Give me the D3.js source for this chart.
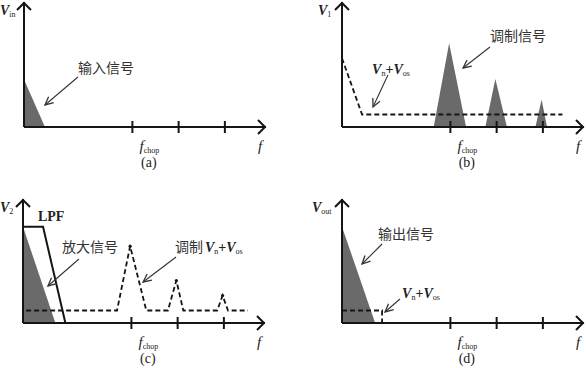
<!DOCTYPE html>
<html><head><meta charset="utf-8">
<script src="https://cdn.jsdelivr.net/npm/d3@7"></script>
<style>
html,body{margin:0;padding:0;background:#fff;}
svg{display:block;}
.cn{font-family:"Noto Sans CJK SC","Noto Sans",sans-serif;font-size:14px;fill:#333;}
.sr{font-family:"Liberation Serif","DejaVu Serif",serif;fill:#222;}
</style></head>
<body>
<script>
// ---- data (frequency units: ticks at 7, 10, 13 = fchop, 2fchop, 3fchop positions) ----
const tickFreqs = [7, 10, 13];
const panelNames = ["(a)", "(b)", "(c)", "(d)"];
const yAxisMain = ["V", "V", "V", "V"];
const yAxisSub = ["in", "1", "2", "out"];
// (a) input signal spectrum
const inputSignal = [[0, 3.8], [1.36, 0], [0, 0]];
// (b) modulated signal peaks: [centre, left base, right base, height]
const modPeaks = [[6.95, 5.95, 8.05, 6.7], [9.95, 9.3, 10.7, 3.85], [12.95, 12.55, 13.3, 2.2]];
// (b) noise + offset (dashed)
const noiseB = [[0, 5.5], [1.3, 1.0], [14.3, 1.0]];
// (c) LPF outline, amplified signal, modulated noise (dashed)
const lpf = [[0, 7.7], [1.3, 7.7], [2.75, 0]];
const ampSignal = [[0, 7.7], [2.1, 0], [0, 0]];
const noiseC = [[0.2, 1], [6.1, 1], [6.95, 6.15], [8.0, 1], [9.4, 1], [9.95, 3.4], [10.4, 1],
                [12.6, 1], [12.95, 2.2], [13.3, 1], [14.6, 1]];
const noiseCPeaks = [[6.95, 6.15], [9.95, 3.4], [12.95, 2.2]];
// (d) output signal and residual noise
const outSignal = [[0, 7.7], [2.15, 0], [0, 0]];
const noiseD = [[0, 1], [2.6, 1], [2.6, 0]];

// ---- layout ----
const W = 586, H = 368;
const panels = [
  {x0: 24, y0: 127, top: 2, lx: 0},
  {x0: 342, y0: 127, top: 2, lx: 318},
  {x0: 23, y0: 323, top: 199, lx: 0},
  {x0: 342, y0: 323, top: 199, lx: 312}
];
const svg = d3.select("body").append("svg").attr("width", W).attr("height", H);
const grey = "#6a6a6a", ink = "#151515";

panels.forEach((p, i) => {
  p.x = d3.scaleLinear().domain([0, 15.7]).range([p.x0, p.x0 + 242]);
  p.y = d3.scaleLinear().domain([0, 10]).range([p.y0, p.y0 - 125]);
  p.g = svg.append("g");
});

const line = (p) => d3.line().x(d => p.x(d[0])).y(d => p.y(d[1]));

function chevron(g, x, y, dir, size, w) {
  let pts;
  if (dir === "up") pts = [[x - size, y + size], [x, y], [x + size, y + size]];
  else pts = [[x - size, y - size], [x, y], [x - size, y + size]];
  g.append("path").attr("d", d3.line()(pts)).attr("fill", "none")
    .attr("stroke", ink).attr("stroke-width", w).attr("stroke-linejoin", "miter");
}
function annArrow(p, from, to) {
  const x1 = p.x(from[0]), y1 = p.y(from[1]), x2 = p.x(to[0]), y2 = p.y(to[1]);
  p.g.append("line").attr("x1", x1).attr("y1", y1).attr("x2", x2).attr("y2", y2)
    .attr("stroke", "#333").attr("stroke-width", 1.1);
  const a = Math.atan2(y1 - y2, x1 - x2), L = 9, s = 0.45;
  const pts = [[x2 + L * Math.cos(a + s), y2 + L * Math.sin(a + s)], [x2, y2],
               [x2 + L * Math.cos(a - s), y2 + L * Math.sin(a - s)]];
  p.g.append("path").attr("d", d3.line()(pts)).attr("fill", "none")
    .attr("stroke", "#333").attr("stroke-width", 1.3);
}
function vnos(g, x, y) {
  const t = g.append("text").attr("class", "sr").attr("x", x).attr("y", y)
    .attr("font-size", 14).attr("font-weight", "bold").attr("font-style", "italic");
  t.append("tspan").text("V");
  t.append("tspan").attr("font-size", 8).attr("font-style", "normal").attr("font-weight", "normal").attr("dy", 2).text("n");
  t.append("tspan").attr("dy", -2).attr("font-style", "normal").text("+");
  t.append("tspan").text("V");
  t.append("tspan").attr("font-size", 8).attr("font-style", "normal").attr("font-weight", "normal").attr("dy", 2).text("os");
  return t;
}

// ---- axes ----
panels.forEach((p, i) => {
  const g = p.g;
  const xEnd = p.x0 + 242;
  const xAxis = d3.axisBottom(p.x).tickValues(tickFreqs).tickSize(0).tickFormat("");
  const ax = g.append("g").attr("transform", `translate(0,${p.y0})`).call(xAxis);
  ax.select(".domain").remove();
  ax.selectAll(".tick line").remove();
  ax.selectAll(".tick").append("line").attr("y1", -6).attr("y2", 6)
    .attr("stroke", ink).attr("stroke-width", 2);
  g.append("line").attr("x1", p.x0).attr("x2", xEnd).attr("y1", p.y0).attr("y2", p.y0)
    .attr("stroke", ink).attr("stroke-width", 2);
  g.append("line").attr("x1", p.x0).attr("x2", p.x0).attr("y1", p.y0).attr("y2", p.top)
    .attr("stroke", ink).attr("stroke-width", 2);
  chevron(g, p.x0, p.top + 1, "up", 7, 2);
  chevron(g, xEnd - 1, p.y0, "right", 7, 2);
  const yl = g.append("text").attr("class", "sr").attr("x", p.lx).attr("y", p.top + 13)
    .attr("font-size", 14).attr("font-weight", "bold").attr("font-style", "italic");
  yl.append("tspan").text(yAxisMain[i]);
  yl.append("tspan").attr("font-size", 8).attr("font-style", "normal").attr("font-weight", "normal")
    .attr("dy", 2).text(yAxisSub[i]);
  const fc = g.append("text").attr("class", "sr").attr("x", p.x(7.5)).attr("y", p.y0 + 24)
    .attr("font-size", 15).attr("font-style", "italic");
  fc.append("tspan").text("f");
  fc.append("tspan").attr("font-size", 8).attr("font-style", "normal").attr("dy", 2).text("chop");
  g.append("text").attr("class", "sr").attr("x", xEnd - 8).attr("y", p.y0 + 24)
    .attr("font-size", 15).attr("font-style", "italic").text("f");
  g.append("text").attr("class", "sr").attr("x", p.x(8.1)).attr("y", p.y0 + 40)
    .attr("text-anchor", "middle").attr("font-size", 14).text(panelNames[i]);
});

// ---- (a) ----
{
  const p = panels[0];
  p.g.insert("path", ":first-child").attr("d", line(p)(inputSignal) + "Z").attr("fill", grey);
  p.g.append("text").attr("class", "cn").attr("x", p.x(3.5)).attr("y", p.y(4.3)).text("输入信号");
  annArrow(p, [3.5, 4.0], [1.36, 1.76]);
}
// ---- (b) ----
{
  const p = panels[1];
  modPeaks.forEach(d => {
    p.g.insert("path", ":first-child")
      .attr("d", line(p)([[d[1], 0], [d[0], d[3]], [d[2], 0]]) + "Z").attr("fill", grey);
  });
  p.g.append("path").attr("d", line(p)(noiseB)).attr("fill", "none").attr("stroke", ink)
    .attr("stroke-width", 1.8).attr("stroke-dasharray", "5,3");
  vnos(p.g, p.x(1.95), p.y(4.25));
  annArrow(p, [2.98, 4.16], [2.01, 1.6]);
  p.g.append("text").attr("class", "cn").attr("x", p.x(9.6)).attr("y", p.y(6.9)).text("调制信号");
  annArrow(p, [9.6, 6.4], [7.85, 4.72]);
}
// ---- (c) ----
{
  const p = panels[2];
  p.g.insert("path", ":first-child").attr("d", line(p)(ampSignal) + "Z").attr("fill", grey);
  p.g.append("path").attr("d", line(p)(lpf)).attr("fill", "none").attr("stroke", ink)
    .attr("stroke-width", 2);
  p.g.append("path").attr("d", line(p)(noiseC)).attr("fill", "none").attr("stroke", ink)
    .attr("stroke-width", 1.8).attr("stroke-dasharray", "5,3");
  p.g.selectAll(".pk").data(noiseCPeaks).join("circle").attr("cx", d => p.x(d[0]))
    .attr("cy", d => p.y(d[1])).attr("r", 1.6).attr("fill", ink);
  p.g.append("text").attr("class", "sr").attr("x", p.x(0.97)).attr("y", p.y(8.15))
    .attr("font-size", 14).attr("font-weight", "bold").text("LPF");
  p.g.append("text").attr("class", "cn").attr("x", p.x(2.53)).attr("y", p.y(5.68)).text("放大信号");
  annArrow(p, [3.63, 5.12], [1.62, 2.96]);
  p.g.append("text").attr("class", "cn").attr("x", p.x(9.86)).attr("y", p.y(5.68)).text("调制");
  vnos(p.g, p.x(11.8), p.y(5.68));
  annArrow(p, [9.93, 5.28], [7.79, 3.28]);
}
// ---- (d) ----
{
  const p = panels[3];
  p.g.insert("path", ":first-child").attr("d", line(p)(outSignal) + "Z").attr("fill", grey);
  p.g.append("path").attr("d", line(p)(noiseD)).attr("fill", "none").attr("stroke", ink)
    .attr("stroke-width", 1.8).attr("stroke-dasharray", "5,3");
  p.g.append("text").attr("class", "cn").attr("x", p.x(2.34)).attr("y", p.y(6.72)).text("输出信号");
  annArrow(p, [2.6, 6.32], [1.3, 4.72]);
  vnos(p.g, p.x(3.9), p.y(2.0));
  annArrow(p, [3.76, 1.92], [2.79, 0.88]);
}
</script>
</body></html>
